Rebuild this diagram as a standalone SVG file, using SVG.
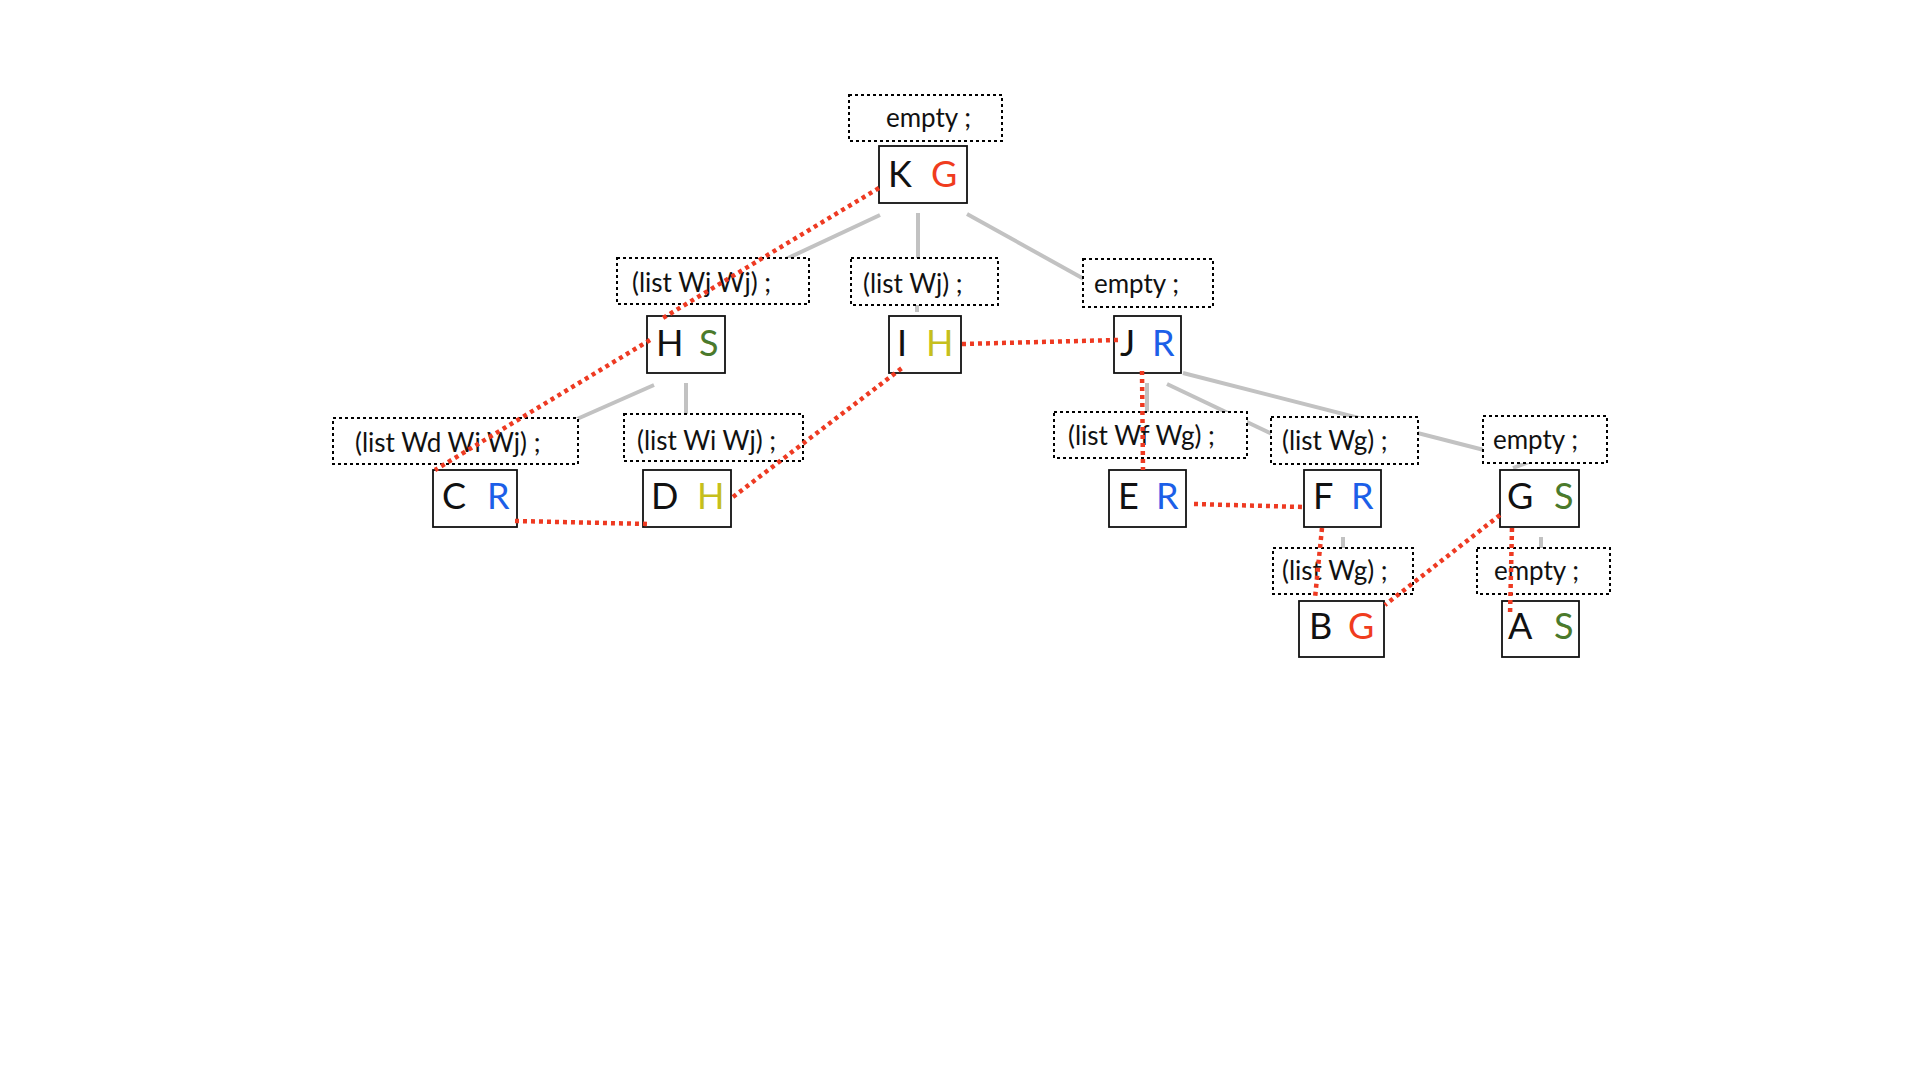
<svg xmlns="http://www.w3.org/2000/svg" width="1920" height="1080" viewBox="0 0 1920 1080">
<style>
.lab rect{fill:#fff;stroke:#000;stroke-width:2;stroke-dasharray:3 3}
.lab text{font-family:Lato,"Open Sans","Liberation Sans",sans-serif;font-size:26px;fill:#111}
.node rect{fill:#fff;stroke:#111;stroke-width:1.8}
.node text{font-family:Lato,"Open Sans","Liberation Sans",sans-serif;font-size:36px;fill:#111}
.gr{stroke:#c2c2c2;stroke-width:4;fill:none}
.rd{stroke:#ee3a22;stroke-width:4.5;stroke-dasharray:4 4;fill:none}
.node text.cr{fill:#f03c1e}.node text.cb{fill:#1c5fe8}.node text.cg{fill:#4b7a2c}.node text.cy{fill:#c6bf1c}
</style>
<rect width="1920" height="1080" fill="#fff"/>
<g id="tree-edges">
<line class="gr" x1="880" y1="215" x2="786" y2="259"/>
<line class="gr" x1="918" y1="213" x2="918" y2="259"/>
<line class="gr" x1="967" y1="214" x2="1084" y2="279"/>
<line class="gr" x1="917" y1="305" x2="917" y2="312"/>
<line class="gr" x1="654" y1="385" x2="577" y2="419"/>
<line class="gr" x1="686" y1="383" x2="686" y2="415"/>
<line class="gr" x1="1147" y1="383" x2="1147" y2="413"/>
<line class="gr" x1="1167" y1="384" x2="1272" y2="434"/>
<line class="gr" x1="1183" y1="373" x2="1484" y2="450"/>
<line class="gr" x1="1529" y1="462" x2="1513" y2="468"/>
<line class="gr" x1="1343" y1="537" x2="1343" y2="548"/>
<line class="gr" x1="1541" y1="537" x2="1541" y2="548"/>
</g>
<g id="label-K" class="lab"><rect x="849" y="95" width="153" height="46"/><text x="886" y="127">empty ;</text></g>
<g id="label-H" class="lab"><rect x="617" y="258" width="192" height="46"/><text x="632" y="292">(list Wj Wj) ;</text></g>
<g id="label-I" class="lab"><rect x="851" y="258" width="147" height="47"/><text x="863" y="293">(list Wj) ;</text></g>
<g id="label-J" class="lab"><rect x="1083" y="259" width="130" height="48"/><text x="1094" y="293">empty ;</text></g>
<g id="label-C" class="lab"><rect x="333" y="418" width="245" height="46"/><text x="355" y="452">(list Wd Wi Wj) ;</text></g>
<g id="label-D" class="lab"><rect x="624" y="414" width="179" height="47"/><text x="637" y="450">(list Wi Wj) ;</text></g>
<g id="label-E" class="lab"><rect x="1054" y="412" width="193" height="46"/><text x="1068" y="445">(list Wf Wg) ;</text></g>
<g id="label-F" class="lab"><rect x="1271" y="417" width="147" height="47"/><text x="1282" y="450">(list Wg) ;</text></g>
<g id="label-G" class="lab"><rect x="1483" y="416" width="124" height="47"/><text x="1493" y="449">empty ;</text></g>
<g id="label-B" class="lab"><rect x="1273" y="548" width="140" height="46"/><text x="1282" y="580">(list Wg) ;</text></g>
<g id="label-A" class="lab"><rect x="1477" y="548" width="133" height="46"/><text x="1494" y="580">empty ;</text></g>
<g id="node-K" class="node"><rect x="879" y="146" width="88" height="57"/><text x="888" y="187">K</text><text x="931" y="187" class="cr">G</text></g>
<g id="node-H" class="node"><rect x="647" y="316" width="78" height="57"/><text x="656" y="356">H</text><text x="699" y="356" class="cg">S</text></g>
<g id="node-I" class="node"><rect x="889" y="316" width="72" height="57"/><text x="897" y="356">I</text><text x="926" y="356" class="cy">H</text></g>
<g id="node-J" class="node"><rect x="1114" y="316" width="67" height="57"/><text x="1120" y="356">J</text><text x="1152" y="356" class="cb">R</text></g>
<g id="node-C" class="node"><rect x="433" y="470" width="84" height="57"/><text x="442" y="509">C</text><text x="487" y="509" class="cb">R</text></g>
<g id="node-D" class="node"><rect x="643" y="470" width="88" height="57"/><text x="651" y="509">D</text><text x="697" y="509" class="cy">H</text></g>
<g id="node-E" class="node"><rect x="1109" y="470" width="77" height="57"/><text x="1118" y="509">E</text><text x="1156" y="509" class="cb">R</text></g>
<g id="node-F" class="node"><rect x="1304" y="470" width="77" height="57"/><text x="1313" y="509">F</text><text x="1351" y="509" class="cb">R</text></g>
<g id="node-G" class="node"><rect x="1500" y="470" width="79" height="57"/><text x="1507" y="509">G</text><text x="1554" y="509" class="cg">S</text></g>
<g id="node-B" class="node"><rect x="1299" y="601" width="85" height="56"/><text x="1309" y="639">B</text><text x="1348" y="639" class="cr">G</text></g>
<g id="node-A" class="node"><rect x="1502" y="601" width="77" height="56"/><text x="1508" y="639">A</text><text x="1554" y="639" class="cg">S</text></g>
<g id="path-edges">
<line class="rd" x1="879" y1="188" x2="663" y2="318"/>
<line class="rd" x1="650" y1="340" x2="435" y2="470"/>
<line class="rd" x1="515" y1="521" x2="650" y2="524"/>
<line class="rd" x1="733" y1="497" x2="902" y2="368"/>
<line class="rd" x1="962" y1="344" x2="1118" y2="340"/>
<line class="rd" x1="1142" y1="371" x2="1143" y2="470"/>
<line class="rd" x1="1194" y1="504" x2="1303" y2="507"/>
<line class="rd" x1="1322" y1="528" x2="1315" y2="598"/>
<line class="rd" x1="1500" y1="515" x2="1385" y2="605"/>
<line class="rd" x1="1512" y1="528" x2="1510" y2="615"/>
</g>
</svg>
